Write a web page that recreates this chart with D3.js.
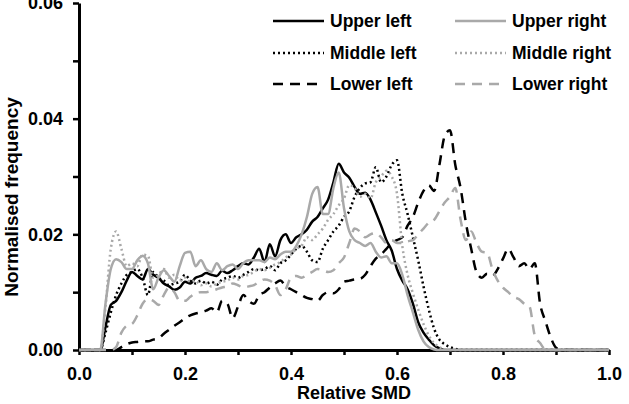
<!DOCTYPE html>
<html>
<head>
<meta charset="utf-8">
<script src="https://cdn.jsdelivr.net/npm/d3@7"></script>
<style>
  body { margin: 0; background: #fff; }
  text { font-family: "Liberation Sans", Arial, sans-serif; font-weight: bold; fill: #000; }
</style>
</head>
<body>
<script>
// ---- Data ----
const xGrid = d3.range(0, 101).map(i => i / 100); // Relative SMD grid 0.00 .. 1.00

const upperLeft = [
  0,0,0,0,0,0.0040,0.0078,0.0085,0.0100,0.0120,
  0.0135,0.0128,0.0122,0.0140,0.0130,0.0125,0.0115,0.0110,0.0104,0.0108,
  0.0118,0.0115,0.0125,0.0128,0.0133,0.0130,0.0128,0.0137,0.0133,0.0138,
  0.0145,0.0150,0.0148,0.0160,0.0175,0.0152,0.0183,0.0162,0.0190,0.0200,
  0.0185,0.0195,0.0200,0.0208,0.0222,0.0230,0.0245,0.0260,0.0290,0.0322,
  0.0307,0.0298,0.0282,0.0270,0.0272,0.0260,0.0238,0.0215,0.0190,0.0172,
  0.0140,0.0120,0.0105,0.0080,0.0048,0.0030,0.0018,0.0008,0.0003,0,
  0,0,0,0,0,0,0,0,0,0,
  0,0,0,0,0,0,0,0,0,0,
  0,0,0,0,0,0,0,0,0,0,0
];
const upperRight = [
  0,0,0,0,0,0.0080,0.0140,0.0157,0.0152,0.0140,
  0.0140,0.0155,0.0163,0.0150,0.0105,0.0125,0.0138,0.0128,0.0118,0.0145,
  0.0168,0.0170,0.0145,0.0155,0.0140,0.0135,0.0150,0.0138,0.0145,0.0148,
  0.0140,0.0150,0.0155,0.0155,0.0155,0.0152,0.0160,0.0157,0.0165,0.0170,
  0.0170,0.0180,0.0200,0.0230,0.0270,0.0282,0.0235,0.0235,0.0280,0.0307,
  0.0245,0.0205,0.0190,0.0185,0.0180,0.0185,0.0170,0.0160,0.0162,0.0150,
  0.0150,0.0130,0.0095,0.0065,0.0035,0.0015,0.0005,0.0001,0,0,
  0,0,0,0,0,0,0,0,0,0,
  0,0,0,0,0,0,0,0,0,0,
  0,0,0,0,0,0,0,0,0,0,0
];
const middleLeft = [
  0,0,0,0,0,0.0030,0.0065,0.0095,0.0115,0.0130,
  0.0135,0.0140,0.0125,0.0095,0.0135,0.0125,0.0120,0.0112,0.0115,0.0118,
  0.0130,0.0120,0.0115,0.0120,0.0115,0.0118,0.0113,0.0122,0.0125,0.0128,
  0.0125,0.0130,0.0135,0.0140,0.0138,0.0140,0.0145,0.0138,0.0150,0.0155,
  0.0165,0.0175,0.0180,0.0170,0.0155,0.0152,0.0175,0.0190,0.0205,0.0215,
  0.0230,0.0240,0.0265,0.0280,0.0288,0.0290,0.0316,0.0290,0.0300,0.0320,
  0.0328,0.0270,0.0235,0.0195,0.0155,0.0110,0.0070,0.0037,0.0018,0.0010,
  0.0005,0.0002,0,0,0,0,0,0,0,0,
  0,0,0,0,0,0,0,0,0,0,
  0,0,0,0,0,0,0,0,0,0,0
];
const middleRight = [
  0,0,0,0,0,0.0075,0.0175,0.0205,0.0175,0.0145,
  0.0150,0.0145,0.0165,0.0163,0.0125,0.0130,0.0140,0.0125,0.0130,0.0120,
  0.0125,0.0118,0.0120,0.0112,0.0115,0.0110,0.0115,0.0118,0.0120,0.0125,
  0.0122,0.0128,0.0130,0.0135,0.0140,0.0138,0.0142,0.0148,0.0152,0.0160,
  0.0165,0.0175,0.0180,0.0195,0.0190,0.0200,0.0210,0.0225,0.0235,0.0250,
  0.0262,0.0285,0.0280,0.0265,0.0270,0.0262,0.0290,0.0300,0.0310,0.0300,
  0.0270,0.0180,0.0130,0.0098,0.0070,0.0045,0.0025,0.0012,0.0005,0.0001,
  0,0,0,0,0,0,0,0,0,0,
  0,0,0,0,0,0,0,0,0,0,
  0,0,0,0,0,0,0,0,0,0,0
];
const lowerLeft = [
  0,0,0,0,0,0,0,0,0.0005,0.0010,
  0.0013,0.0014,0.0015,0.0015,0.0018,0.0020,0.0028,0.0035,0.0042,0.0048,
  0.0055,0.0060,0.0063,0.0065,0.0068,0.0072,0.0065,0.0085,0.0080,0.0055,
  0.0075,0.0095,0.0085,0.0080,0.0095,0.0100,0.0108,0.0115,0.0120,0.0110,
  0.0105,0.0100,0.0095,0.0090,0.0088,0.0085,0.0095,0.0100,0.0098,0.0105,
  0.0118,0.0120,0.0122,0.0123,0.0130,0.0145,0.0158,0.0165,0.0175,0.0185,
  0.0190,0.0195,0.0215,0.0230,0.0255,0.0275,0.0285,0.0275,0.0320,0.0370,
  0.0380,0.0320,0.0280,0.0220,0.0175,0.0135,0.0125,0.0132,0.0128,0.0140,
  0.0158,0.0175,0.0160,0.0145,0.0150,0.0140,0.0150,0.0080,0.0050,0.0022,
  0.0004,0,0,0,0,0,0,0,0,0,0
];
const lowerRight = [
  0,0,0,0,0,0,0,0.0005,0.0030,0.0042,
  0.0045,0.0060,0.0080,0.0088,0.0085,0.0078,0.0095,0.0108,0.0100,0.0085,
  0.0085,0.0092,0.0098,0.0100,0.0100,0.0102,0.0105,0.0108,0.0110,0.0115,
  0.0112,0.0108,0.0110,0.0112,0.0118,0.0122,0.0120,0.0112,0.0095,0.0105,
  0.0125,0.0128,0.0125,0.0130,0.0135,0.0140,0.0138,0.0135,0.0138,0.0150,
  0.0160,0.0185,0.0210,0.0205,0.0195,0.0200,0.0202,0.0195,0.0185,0.0190,
  0.0185,0.0185,0.0188,0.0190,0.0200,0.0210,0.0220,0.0225,0.0240,0.0255,
  0.0265,0.0280,0.0225,0.0190,0.0205,0.0185,0.0170,0.0168,0.0140,0.0120,
  0.0108,0.0100,0.0092,0.0088,0.0080,0.0075,0.0025,0.0012,0.0001,0,
  0,0,0,0,0,0,0,0,0,0,0
];

const seriesNames = ["Upper left", "Middle left", "Lower left", "Upper right", "Middle right", "Lower right"];
const seriesValues = [upperLeft, middleLeft, lowerLeft, upperRight, middleRight, lowerRight];

const yTickValues = [0, 0.01, 0.02, 0.03, 0.04, 0.05, 0.06];
const yTickLabels = ["0.00", "", "0.02", "", "0.04", "", "0.06"];
const xTickValues = [0, 0.1, 0.2, 0.3, 0.4, 0.5, 0.6, 0.7, 0.8, 0.9, 1.0];
const xTickLabels = ["0.0", "", "0.2", "", "0.4", "", "0.6", "", "0.8", "", "1.0"];
const xTitle = "Relative SMD";
const yTitle = "Normalised frequency";

// ---- Styles ----
const BLACK = "#000000", GREY = "#a9a9a9";
const styles = {
  "Upper left":   { color: BLACK, dash: null },
  "Middle left":  { color: BLACK, dash: "2,3" },
  "Lower left":   { color: BLACK, dash: "10,7" },
  "Upper right":  { color: GREY,  dash: null },
  "Middle right": { color: GREY,  dash: "2,3" },
  "Lower right":  { color: GREY,  dash: "10,7" }
};

// ---- Chart ----
const W = 629, H = 404;
const svg = d3.select("body").append("svg").attr("width", W).attr("height", H);

const x = d3.scaleLinear().domain([0, 1]).range([79, 609]);
const y = d3.scaleLinear().domain([0, 0.06]).range([350, 3]);

// Y axis
const yAxis = d3.axisLeft(y).tickValues(yTickValues)
  .tickFormat((d, i) => yTickLabels[i]).tickSize(6).tickSizeOuter(0).tickPadding(10);
const gy = svg.append("g").attr("transform", `translate(${x(0)},0)`).call(yAxis);
gy.select(".domain").attr("stroke", "#000").attr("stroke-width", 3);
gy.selectAll(".tick line").attr("stroke", "#000").attr("stroke-width", 2.5);
gy.selectAll(".tick text").style("font-size", "18px").style("font-family", "Liberation Sans, Arial, sans-serif").style("font-weight", "bold");

// X axis
const xAxis = d3.axisBottom(x).tickValues(xTickValues)
  .tickFormat((d, i) => xTickLabels[i]).tickSize(5).tickSizeOuter(0).tickPadding(12);
const gx = svg.append("g").attr("transform", `translate(0,${y(0)})`).call(xAxis);
gx.select(".domain").attr("stroke", "#000").attr("stroke-width", 3);
gx.selectAll(".tick line").attr("stroke", "#000").attr("stroke-width", 2.5);
gx.selectAll(".tick text").style("font-size", "18px").style("font-family", "Liberation Sans, Arial, sans-serif").style("font-weight", "bold");

// Lines
const line = d3.line()
  .x((d, i) => x(xGrid[i]))
  .y(d => y(d))
  .curve(d3.curveMonotoneX);

const order = ["Upper left", "Middle left", "Lower left", "Upper right", "Middle right", "Lower right"];
order.forEach(name => {
  const vals = seriesValues[seriesNames.indexOf(name)];
  const st = styles[name];
  svg.append("path")
    .datum(vals)
    .attr("d", line)
    .attr("fill", "none")
    .attr("stroke", st.color)
    .attr("stroke-width", 2.5)
    .attr("stroke-dasharray", st.dash)
    .attr("stroke-linejoin", "round");
});

// Axis titles
svg.append("text")
  .attr("x", 354).attr("y", 399)
  .attr("text-anchor", "middle")
  .style("font-size", "18px")
  .text(xTitle);

svg.append("text")
  .attr("transform", "translate(18,197) rotate(-90)")
  .attr("text-anchor", "middle")
  .style("font-size", "19px")
  .text(yTitle);

// Legend
const legendNames = ["Upper left", "Upper right", "Middle left", "Middle right", "Lower left", "Lower right"];
const legendColX = [273, 455];
const legendRowY = [21, 53, 84];
legendNames.forEach((name, i) => {
  const col = i % 2, row = Math.floor(i / 2);
  const lx = legendColX[col], ly = legendRowY[row];
  const st = styles[name];
  svg.append("line")
    .attr("x1", lx).attr("x2", lx + 51)
    .attr("y1", ly).attr("y2", ly)
    .attr("stroke", st.color).attr("stroke-width", 2.5)
    .attr("stroke-dasharray", st.dash);
  svg.append("text")
    .attr("x", lx + 57).attr("y", ly + 6)
    .style("font-size", "17.5px")
    .text(name);
});
</script>
</body>
</html>
